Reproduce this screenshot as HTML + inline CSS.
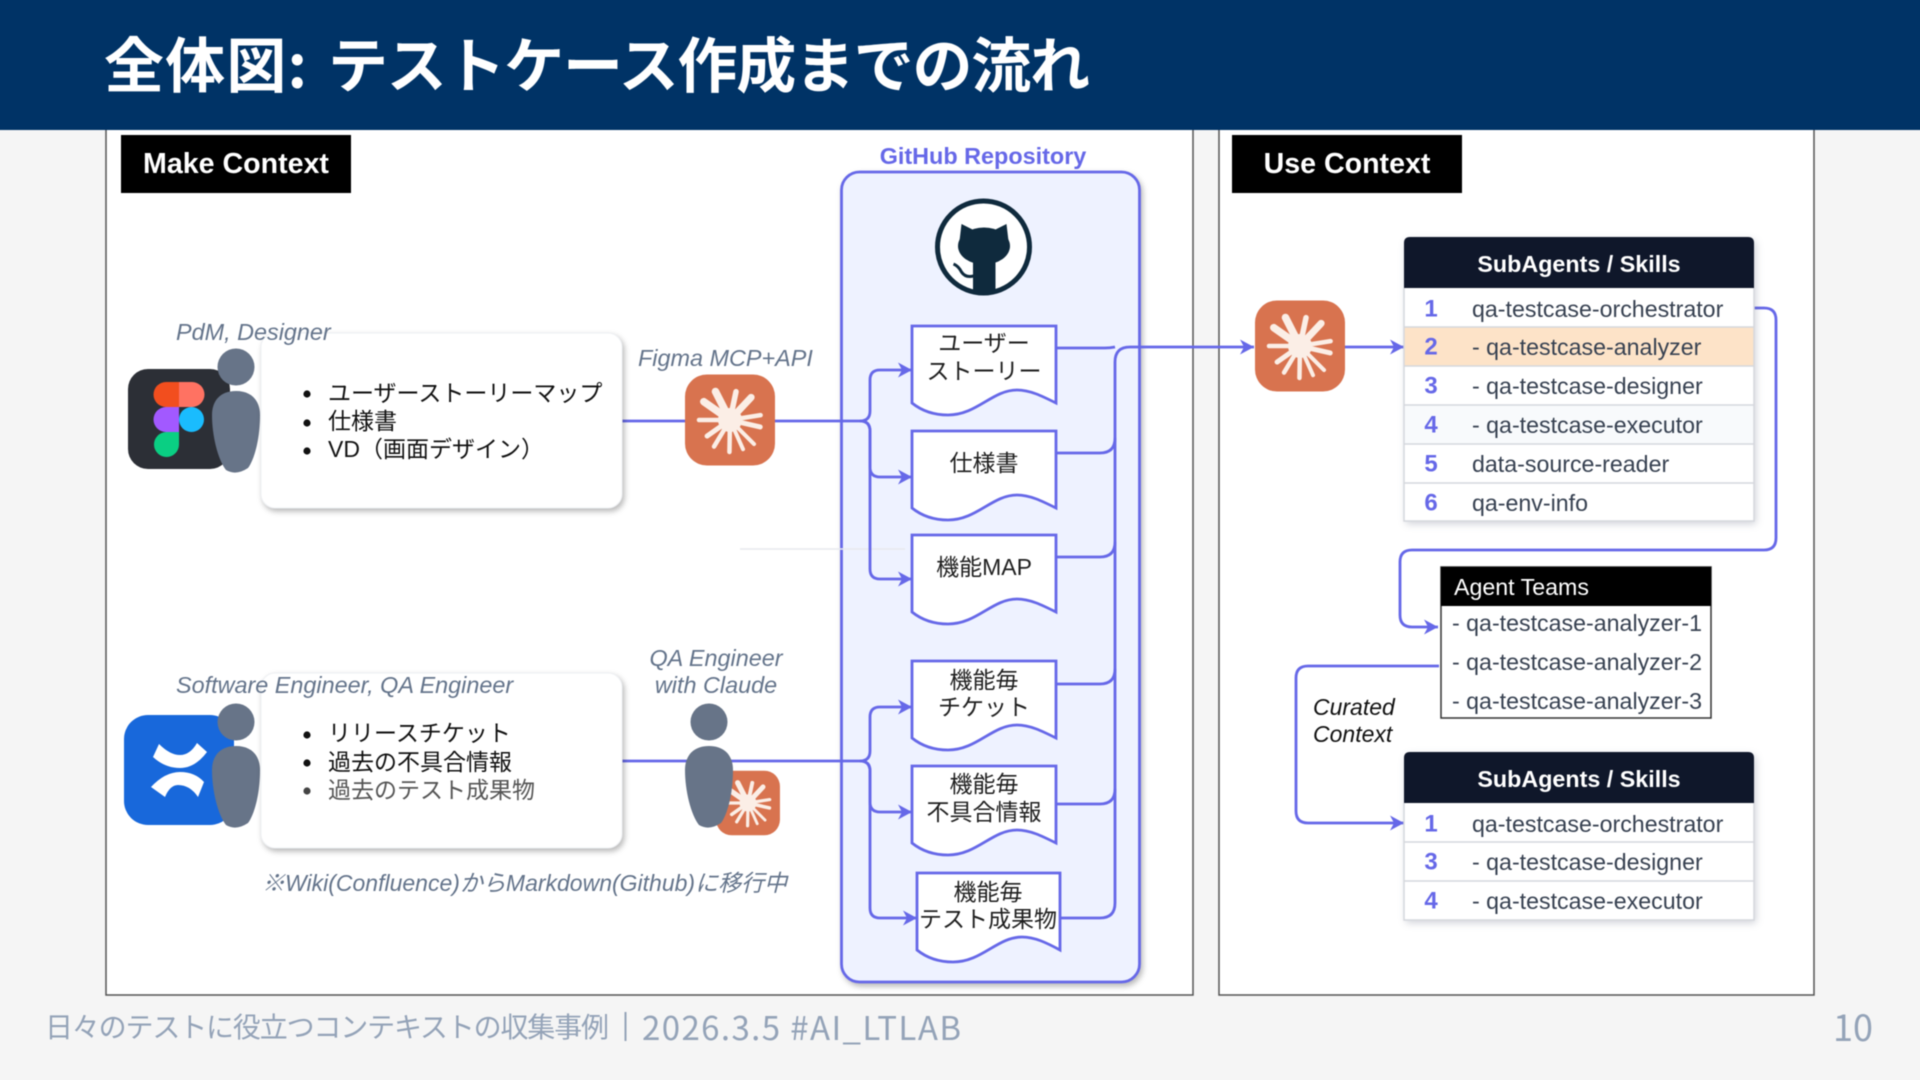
<!DOCTYPE html>
<html lang="ja"><head><meta charset="utf-8"><title>全体図: テストケース作成までの流れ</title>
<style>
html,body{margin:0;padding:0;width:1920px;height:1080px;overflow:hidden;background:#f5f5f5}
svg{display:block;overflow:visible;font-family:"Liberation Sans","Noto Sans CJK JP",sans-serif;filter:blur(.45px)}
.shadow{filter:drop-shadow(2px 3px 3px rgba(0,0,0,.28))}
.soft{filter:drop-shadow(2px 3px 4px rgba(40,50,80,.22))}
.ln{fill:none;stroke:#6668e8;stroke-width:2.8}
.ar{marker-end:url(#a)}
.doc{fill:#fff;stroke:#6668e8;stroke-width:2.8;stroke-linejoin:miter}
.dt{font-size:23px;fill:#1f1f1f;text-anchor:middle;dominant-baseline:central}
.li{font-size:23px;fill:#111;dominant-baseline:central}
.role{font-size:23.4px;font-style:italic;fill:#64748b;dominant-baseline:central}
.h{font-size:23.3px;font-weight:bold;fill:#fff;text-anchor:middle;dominant-baseline:central}
.n{font-size:24px;font-weight:bold;fill:#6668e8;text-anchor:middle;dominant-baseline:central}
.r{font-size:23.2px;fill:#374151;dominant-baseline:central}
.ray{stroke:#fbeee6;stroke-linecap:round}
</style></head><body>
<svg width="1920" height="1080" viewBox="0 0 1920 1080" xmlns="http://www.w3.org/2000/svg">
<defs>
<marker id="a" viewBox="0 0 14 15" refX="14" refY="7.5" markerWidth="14" markerHeight="15" orient="auto" markerUnits="userSpaceOnUse"><path d="M0,0 L14,7.5 L0,15 L4,7.5Z" fill="#6668e8"/></marker>
<g id="claude">
<rect x="-45" y="-45.5" width="90" height="91" rx="22" fill="#d8734f"/>
<g class="ray">
<line y1="-8" y2="-32" stroke-width="7.5" transform="rotate(-27)"/>
<line y1="-8" y2="-29" stroke-width="5.5" transform="rotate(12)"/>
<line y1="-8" y2="-31" stroke-width="7" transform="rotate(43)"/>
<line y1="-8" y2="-31" stroke-width="4.5" transform="rotate(81)"/>
<line y1="-8" y2="-31" stroke-width="5" transform="rotate(103)"/>
<line y1="-8" y2="-34" stroke-width="4" transform="rotate(135)"/>
<line y1="-8" y2="-32" stroke-width="4" transform="rotate(156)"/>
<line y1="-8" y2="-32" stroke-width="4.5" transform="rotate(181)"/>
<line y1="-8" y2="-31" stroke-width="4.5" transform="rotate(211)"/>
<line y1="-8" y2="-28" stroke-width="5" transform="rotate(235)"/>
<line y1="-8" y2="-31" stroke-width="4.5" transform="rotate(270)"/>
<line y1="-8" y2="-32" stroke-width="7.5" transform="rotate(-55)"/>
</g><circle r="12" fill="#fbeee6"/>
</g>
<g id="person" fill="#677488">
<circle cx="236" cy="367" r="18.5"/>
<path d="M236,391 C252,391 260,401 260,415 C260,440 254,460 248,468 Q236,476 226,470 C218,460 212,436 212,415 C212,401 220,391 236,391Z"/>
</g>
</defs>

<!-- page background extends past the edges so the blur does not fade them -->
<rect x="-10" y="-10" width="1940" height="1100" fill="#f5f5f5"/>

<!-- panels -->
<rect x="106" y="120" width="1087" height="875" fill="#fff" stroke="#555" stroke-width="1.5"/>
<rect x="1219" y="120" width="595" height="875" fill="#fff" stroke="#555" stroke-width="1.5"/>

<!-- header -->
<rect x="-10" y="-10" width="1940" height="140" fill="#003366"/>
<g font-size="60" font-weight="bold" fill="#fff" style='font-family:"Noto Sans CJK JP",sans-serif'>
<text x="104" y="62" dominant-baseline="central" textLength="203" lengthAdjust="spacing">全体図:</text>
<text x="328" y="62" dominant-baseline="central" textLength="762" lengthAdjust="spacing">テストケース作成までの流れ</text>
</g>

<!-- section tags -->
<rect x="121" y="135" width="230" height="58" fill="#000"/>
<text x="236" y="164" font-size="28.6" font-weight="bold" fill="#fff" text-anchor="middle" dominant-baseline="central">Make Context</text>
<rect x="1232" y="135" width="230" height="58" fill="#000"/>
<text x="1347" y="164" font-size="28.6" font-weight="bold" fill="#fff" text-anchor="middle" dominant-baseline="central">Use Context</text>

<!-- repo -->
<text x="983" y="156" font-size="23.4" font-weight="bold" fill="#6668e8" text-anchor="middle" dominant-baseline="central">GitHub Repository</text>
<rect class="shadow" x="841.5" y="172" width="298" height="810" rx="18" fill="#eef2ff" stroke="#6668e8" stroke-width="2.8"/>
<circle cx="983.5" cy="247" r="46" fill="#fff" stroke="#0f2a3d" stroke-width="5"/>
<g transform="translate(983.5,247)" fill="#0f2a3d">
<ellipse cx="0.5" cy="-1" rx="26" ry="18.5"/>
<path d="M-22,-23 L-8,-16 H9 L23,-23 L25,-6 H-24Z"/>
<path d="M-10.5,14 H12 V45 Q0,48 -10.5,45Z"/>
<path d="M-30,17 Q-25,19 -22,25 Q-18,31 -10,29" fill="none" stroke="#0f2a3d" stroke-width="3"/>
</g>

<!-- faint line -->
<line x1="740" y1="549" x2="905" y2="549" stroke="#e7e9ee" stroke-width="1.5"/>

<!-- output bus -->
<g class="ln">
<path d="M1056,348 H1105 Q1110,348 1115,347"/>
<path d="M1056,453 H1100 Q1115,453 1115,438"/>
<path d="M1056,557 H1100 Q1115,557 1115,542"/>
<path d="M1056,684 H1100 Q1115,684 1115,669"/>
<path d="M1056,804 H1100 Q1115,804 1115,789"/>
<path class="ar" d="M1060,918 H1100 Q1115,918 1115,903 V362 Q1115,347 1130,347 H1254"/>
</g>

<!-- input connectors -->
<g class="ln">
<path d="M622,421 H685"/>
<path d="M775,421 H862"/>
<path class="ar" d="M860,421 Q870,421 870,411 V380 Q870,370 880,370 H912"/>
<path class="ar" d="M860,421 Q870,421 870,431 V467 Q870,477 880,477 H912"/>
<path class="ar" d="M860,421 Q870,421 870,431 V569 Q870,579 880,579 H912"/>
<path d="M622,761 H862"/>
<path class="ar" d="M860,761 Q870,761 870,751 V717 Q870,707 880,707 H912"/>
<path class="ar" d="M860,761 Q870,761 870,771 V802 Q870,812 880,812 H912"/>
<path class="ar" d="M860,761 Q870,761 870,771 V908 Q870,918 880,918 H917"/>
</g>

<!-- documents -->
<g class="doc">
<path transform="translate(912,326)" d="M0,0 H144 V77 C130,70 118,64 105,64 C80,64 65,89 36,89 C22,89 10,85 0,77Z"/>
<path transform="translate(912,431)" d="M0,0 H144 V77 C130,70 118,64 105,64 C80,64 65,89 36,89 C22,89 10,85 0,77Z"/>
<path transform="translate(912,535)" d="M0,0 H144 V77 C130,70 118,64 105,64 C80,64 65,89 36,89 C22,89 10,85 0,77Z"/>
<path transform="translate(912,661)" d="M0,0 H144 V77 C130,70 118,64 105,64 C80,64 65,89 36,89 C22,89 10,85 0,77Z"/>
<path transform="translate(912,766)" d="M0,0 H144 V77 C130,70 118,64 105,64 C80,64 65,89 36,89 C22,89 10,85 0,77Z"/>
<path transform="translate(917,873)" d="M0,0 H143 V77 C130,70 118,64 105,64 C80,64 65,89 36,89 C22,89 10,85 0,77Z"/>
</g>
<text class="dt" x="984" y="343">ユーザー</text><text class="dt" x="984" y="371">ストーリー</text>
<text class="dt" x="984" y="463">仕様書</text>
<text class="dt" x="984" y="567">機能MAP</text>
<text class="dt" x="984" y="680">機能毎</text><text class="dt" x="984" y="707">チケット</text>
<text class="dt" x="984" y="784">機能毎</text><text class="dt" x="984" y="812">不具合情報</text>
<text class="dt" x="988" y="892">機能毎</text><text class="dt" x="988" y="919">テスト成果物</text>

<!-- Figma -->
<rect x="128" y="369" width="102" height="100" rx="20" fill="#2c2f36"/>
<path d="M179,382 H166 A12.5,12.5 0 0 0 166,407 H179Z" fill="#f24e1e"/>
<path d="M179,382 H192 A12.5,12.5 0 0 1 192,407 H179Z" fill="#ff7262"/>
<path d="M179,407 H166 A12.5,12.5 0 0 0 166,432 H179Z" fill="#a259ff"/>
<ellipse cx="191.5" cy="419.5" rx="12.5" ry="12.5" fill="#1abcfe"/>
<path d="M179,432 H166 A12.5,12.5 0 1 0 179,444.5Z" fill="#0acf83"/>
<use href="#person"/>

<!-- Confluence -->
<rect x="124" y="715" width="110" height="110" rx="24" fill="#1868db"/>
<path d="M159,744 Q170,755 180,755 Q190,755 197,743 L207,752 Q195,768 180,768 Q165,768 153,757Z" fill="#fff"/>
<path d="M151,787 Q165,772 180,772 Q195,772 204,782 L198,797 Q190,785 178,785 Q170,785 165,797Z" fill="#fff"/>
<use href="#person" transform="translate(0,355)"/>

<!-- note boxes -->
<rect class="shadow" x="261" y="333" width="361" height="175" rx="14" fill="#fff" stroke="#eef0f3"/>
<rect class="shadow" x="261" y="673" width="361" height="175" rx="14" fill="#fff" stroke="#eef0f3"/>
<g fill="#111">
<circle cx="307" cy="394" r="3.6"/><circle cx="307" cy="423" r="3.6"/><circle cx="307" cy="451" r="3.6"/>
<circle cx="307" cy="735" r="3.6"/><circle cx="307" cy="763" r="3.6"/><circle cx="307" cy="791" r="3.6" fill="#444"/>
</g>
<text class="li" x="328" y="393">ユーザーストーリーマップ</text>
<text class="li" x="328" y="421">仕様書</text>
<text class="li" x="328" y="449">VD（画面デザイン）</text>
<text class="li" x="328" y="733">リリースチケット</text>
<text class="li" x="328" y="762">過去の不具合情報</text>
<text class="li" x="328" y="790" style="fill:#555">過去のテスト成果物</text>

<text class="role" x="176" y="332">PdM, Designer</text>
<text class="role" x="176" y="685">Software Engineer, QA Engineer</text>
<text class="role" x="638" y="358">Figma MCP+API</text>
<text class="role" x="716" y="658" text-anchor="middle">QA Engineer</text>
<text class="role" x="716" y="685" text-anchor="middle">with Claude</text>
<text class="role" x="262" y="883" style="font-size:23px">※Wiki(Confluence)からMarkdown(Github)に移行中</text>

<!-- Claude icons -->
<use href="#claude" transform="translate(730,420)"/>
<use href="#claude" transform="translate(1300,346)"/>
<use href="#claude" transform="translate(748,803) scale(.71)"/>
<use href="#person" transform="translate(473,355)"/>

<!-- Right side connectors -->
<g class="ln">
<path class="ar" d="M1345,347 H1404"/>
<path class="ar" d="M1754,308 H1764 Q1776,308 1776,320 V538 Q1776,550 1764,550 H1412 Q1400,550 1400,562 V615 Q1400,627 1412,627 H1438"/>
<path class="ar" d="M1439,666 H1308 Q1296,666 1296,678 V811 Q1296,823 1308,823 H1404"/>
</g>

<!-- Table 1 -->
<g class="soft">
<rect x="1404" y="288" width="350" height="233" fill="#fff"/>
<path d="M1404,288 V243 Q1404,237 1410,237 H1748 Q1754,237 1754,243 V288Z" fill="#0f172a"/>
</g>
<rect x="1404" y="327" width="350" height="39" fill="#fde3c8"/>
<rect x="1404" y="405" width="350" height="39" fill="#f8fafc"/>
<g stroke="#d5d8dd" stroke-width="1.5" fill="none">
<path d="M1404,288 V521 H1754 V288"/>
<path d="M1404,327 H1754 M1404,366 H1754 M1404,405 H1754 M1404,444 H1754 M1404,483 H1754"/>
</g>
<text class="h" x="1579" y="264">SubAgents / Skills</text>
<text class="n" x="1431" y="309">1</text><text class="r" x="1472" y="309">qa-testcase-orchestrator</text>
<text class="n" x="1431" y="347">2</text><text class="r" x="1472" y="347">- qa-testcase-analyzer</text>
<text class="n" x="1431" y="386">3</text><text class="r" x="1472" y="386">- qa-testcase-designer</text>
<text class="n" x="1431" y="425">4</text><text class="r" x="1472" y="425">- qa-testcase-executor</text>
<text class="n" x="1431" y="464">5</text><text class="r" x="1472" y="464">data-source-reader</text>
<text class="n" x="1431" y="503">6</text><text class="r" x="1472" y="503">qa-env-info</text>

<!-- Agent Teams -->
<rect x="1441" y="567" width="270" height="151" fill="#fff" stroke="#333" stroke-width="1.5"/>
<rect x="1441" y="567" width="270" height="39" fill="#000"/>
<text x="1454" y="587" font-size="23.2" fill="#fff" dominant-baseline="central">Agent Teams</text>
<text class="r" x="1452" y="623">- qa-testcase-analyzer-1</text>
<text class="r" x="1452" y="662">- qa-testcase-analyzer-2</text>
<text class="r" x="1452" y="701">- qa-testcase-analyzer-3</text>

<text x="1313" y="707" font-size="23" font-style="italic" fill="#111" dominant-baseline="central">Curated</text>
<text x="1313" y="734" font-size="23" font-style="italic" fill="#111" dominant-baseline="central">Context</text>

<!-- Table 2 -->
<g class="soft">
<rect x="1404" y="803" width="350" height="117" fill="#fff"/>
<path d="M1404,803 V758 Q1404,752 1410,752 H1748 Q1754,752 1754,758 V803Z" fill="#0f172a"/>
</g>
<g stroke="#d5d8dd" stroke-width="1.5" fill="none">
<path d="M1404,803 V920 H1754 V803"/>
<path d="M1404,842 H1754 M1404,881 H1754"/>
</g>
<text class="h" x="1579" y="779">SubAgents / Skills</text>
<text class="n" x="1431" y="824">1</text><text class="r" x="1472" y="824">qa-testcase-orchestrator</text>
<text class="n" x="1431" y="862">3</text><text class="r" x="1472" y="862">- qa-testcase-designer</text>
<text class="n" x="1431" y="901">4</text><text class="r" x="1472" y="901">- qa-testcase-executor</text>

<!-- footer -->
<g fill="#94a3b8" style='font-family:"Noto Sans CJK JP",sans-serif'>
<text x="45" y="1026" font-size="28" dominant-baseline="central" textLength="564" lengthAdjust="spacing">日々のテストに役立つコンテキストの収集事例</text>
<rect x="624.5" y="1012" width="2" height="29"/>
<text x="642" y="1026" font-size="33" dominant-baseline="central" textLength="319" lengthAdjust="spacing">2026.3.5 #AI_LTLAB</text>
<text x="1833" y="1026" font-size="36" dominant-baseline="central">10</text>
</g>
</svg>
</body></html>
